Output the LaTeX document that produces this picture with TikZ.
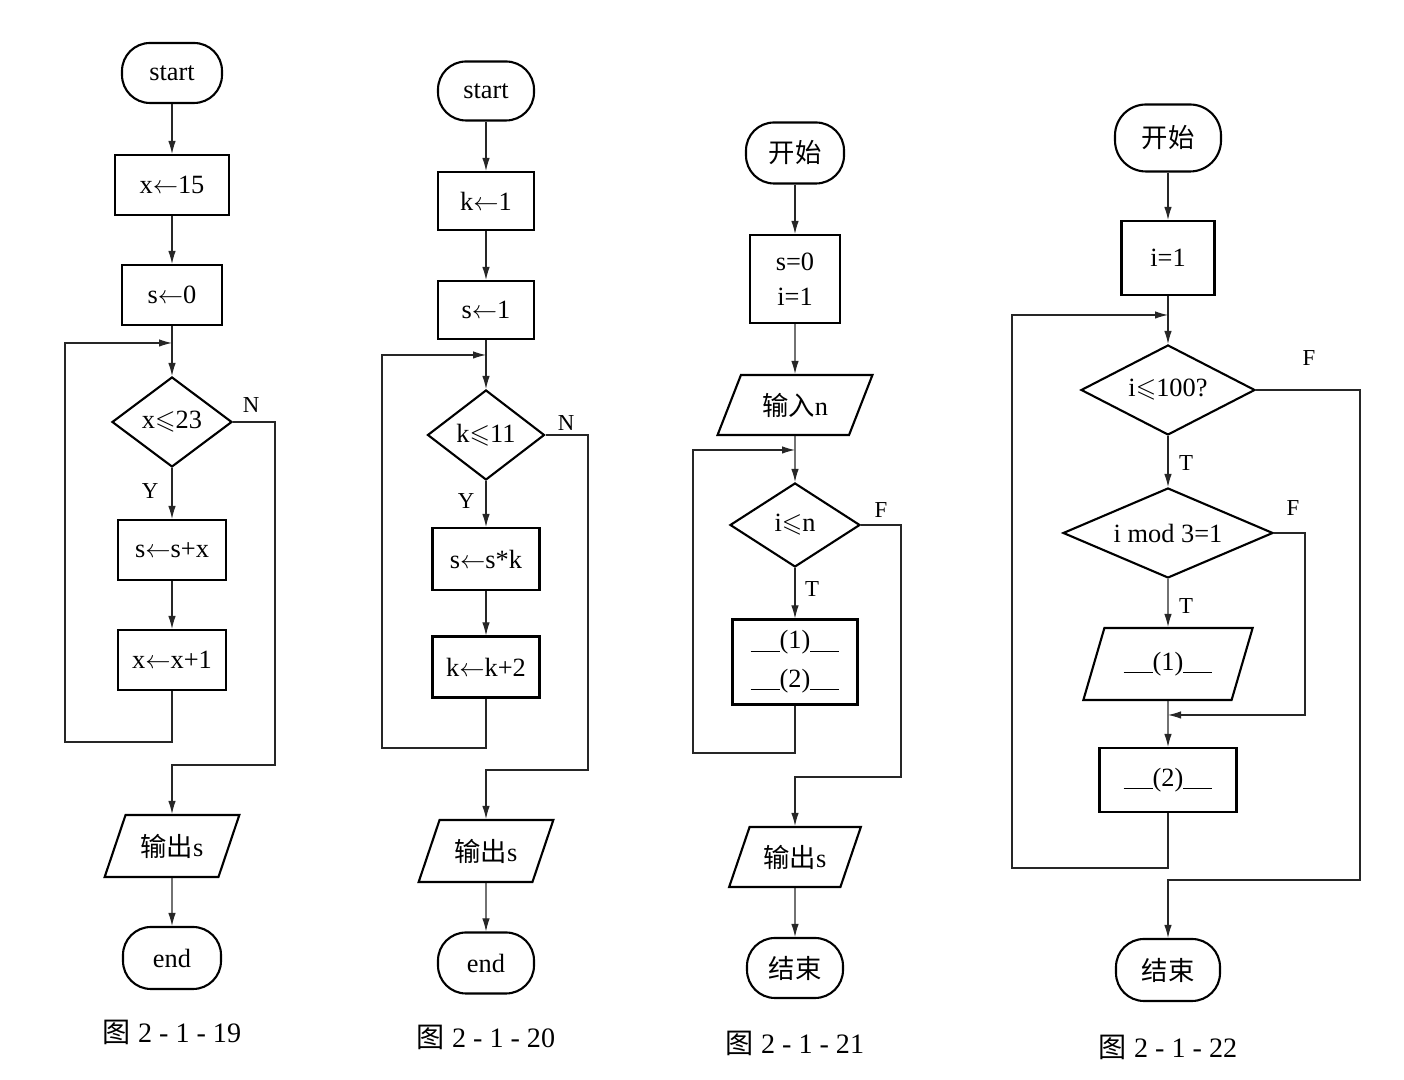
\documentclass[tikz,border=0pt]{standalone}
\usepackage{amsmath}
\usepackage{amssymb}
\usepackage{fontspec}
\setmainfont{Liberation Serif}
\newfontfamily\cjk{Noto Sans CJK SC}
\usepackage{tikz}
\usetikzlibrary{shapes,arrows.meta,positioning,calc}
\newcommand{\gapno}[1]{\rule[-0.1em]{1.1em}{0.5pt}(#1)\rule[-0.1em]{1.1em}{0.5pt}}
\tikzset{
    term/.style={rectangle, draw, rounded corners=0.56cm, line width=1.2pt, minimum width=2cm, minimum height=1.2cm, font=\fontsize{15}{18}\selectfont},
    proc/.style={rectangle, draw, line width=1.2pt, minimum width=2cm, minimum height=1.2cm, font=\fontsize{15}{18}\selectfont},
    io/.style={trapezium, trapezium left angle=65, trapezium right angle=115, trapezium stretches=true, draw, line width=1.2pt, minimum width=2.7cm, minimum height=1.24cm, font=\fontsize{15}{18}\selectfont},
    cond/.style={diamond, aspect=1.33, draw, line width=1.2pt, minimum width=2.4cm, minimum height=1.8cm, inner sep=0pt, font=\fontsize{15}{18}\selectfont},
    line/.style={draw, black!85, line width=0.6pt, -{Latex[length=2.6mm,width=1.5mm]}},
    yn/.style={font=\fontsize{13}{15}\selectfont},
    figcap/.style={font=\fontsize{16}{19}\selectfont}
}

\begin{document}
\begin{tikzpicture}
    \useasboundingbox (0,0) rectangle (28.08,21.6);

    % Figure 2-1-19
    \node [term] (start1) at (3.44,20.14) {start};
    \node [proc, minimum width=2.28cm] (x15) at ([shift={(0,-2.24)}]start1) {x$\leftarrow$15};
    \node [proc] (s0) at ([shift={(0,-2.20)}]x15) {s$\leftarrow$0};
    \node [cond] (dia1) at ([shift={(0,-2.54)}]s0) {x$\leqslant$23};
    \node [proc, minimum width=2.16cm] (add1) at ([shift={(0,-2.56)}]dia1) {s$\leftarrow$s+x};
    \node [proc, minimum width=2.16cm] (inc1) at ([shift={(0,-2.20)}]add1) {x$\leftarrow$x+1};
    \node [io] (out1) at ([shift={(0,-3.72)}]inc1) {{\cjk 输出}s};
    \node [term, minimum width=1.96cm, minimum height=1.24cm] (end1) at ([shift={(0,-2.24)}]out1) {end};
    \node [figcap] (cap1) at ([shift={(0,-1.48)}]end1) {{\cjk 图}\ 2 - 1 - 19};
    \node [yn] (n1) at ([shift={(0.36,0.34)}]dia1.east) {N};
    \node [yn] (y1) at ([shift={(-0.44,-0.46)}]dia1.south) {Y};
    \coordinate (j1) at (3.44,14.74);
    \coordinate (lp1) at (1.30,6.76);
    \coordinate (nx1) at (5.50,6.30);

    \path [line] (start1) -- (x15);
    \path [line] (x15) -- (s0);
    \path [line] (s0) -- (dia1);
    \path [line] (dia1) -- (add1);
    \path [line] (add1) -- (inc1);
    \path [line] (inc1) |- (lp1) |- (j1);
    \path [line] (dia1.east) -| (nx1) -| (out1);
    \path [line] (out1) -- (end1);

    % Figure 2-1-20
    \node [term, minimum width=1.92cm, minimum height=1.18cm] (start2) at (9.72,19.78) {start};
    \node [proc, minimum width=1.92cm, minimum height=1.16cm] (k1) at ([shift={(0,-2.20)}]start2) {k$\leftarrow$1};
    \node [proc, minimum width=1.92cm, minimum height=1.16cm] (s1) at ([shift={(0,-2.18)}]k1) {s$\leftarrow$1};
    \node [cond, minimum width=2.34cm] (dia2) at ([shift={(0,-2.50)}]s1) {k$\leqslant$11};
    \node [proc, minimum width=2.14cm, minimum height=1.24cm] (mul2) at ([shift={(0,-2.48)}]dia2) {s$\leftarrow$s*k};
    \node [proc, minimum width=2.14cm, minimum height=1.22cm] (inc2) at ([shift={(0,-2.16)}]mul2) {k$\leftarrow$k+2};
    \node [io] (out2) at ([shift={(0,-3.68)}]inc2) {{\cjk 输出}s};
    \node [term, minimum width=1.92cm, minimum height=1.22cm] (end2) at ([shift={(0,-2.24)}]out2) {end};
    \node [figcap] (cap2) at ([shift={(0,-1.48)}]end2) {{\cjk 图}\ 2 - 1 - 20};
    \node [yn] (n2) at ([shift={(0.41,0.24)}]dia2.east) {N};
    \node [yn] (y2) at ([shift={(-0.40,-0.40)}]dia2.south) {Y};
    \coordinate (j2) at (9.72,14.50);
    \coordinate (lp2) at (7.64,6.64);
    \coordinate (nx2) at (11.76,6.20);

    \path [line] (start2) -- (k1);
    \path [line] (k1) -- (s1);
    \path [line] (s1) -- (dia2);
    \path [line] (dia2) -- (mul2);
    \path [line] (mul2) -- (inc2);
    \path [line] (inc2) |- (lp2) |- (j2);
    \path [line] (dia2.east) -| (nx2) -| (out2);
    \path [line] (out2) -- (end2);

    % Figure 2-1-21
    \node [term, minimum width=1.96cm, minimum height=1.22cm] (start3) at (15.90,18.54) {\cjk 开始};
    \node [proc, minimum width=1.8cm, minimum height=1.76cm, align=center] (init3) at ([shift={(0,-2.52)}]start3) {s=0\\[2pt]i=1};
    \node [io, minimum width=3.1cm, minimum height=1.2cm] (in3) at ([shift={(0,-2.52)}]init3) {{\cjk 输入}n};
    \node [cond, minimum width=2.6cm, minimum height=1.68cm] (dia3) at ([shift={(0,-2.40)}]in3) {i$\leqslant$n};
    \node [proc, minimum width=2.5cm, minimum height=1.7cm, align=center] (body3) at ([shift={(0,-2.74)}]dia3) {\gapno{1}\\[4pt]\gapno{2}};
    \node [io, minimum width=2.64cm, minimum height=1.2cm] (out3) at ([shift={(0,-3.90)}]body3) {{\cjk 输出}s};
    \node [term, minimum width=1.92cm, minimum height=1.2cm] (end3) at ([shift={(0,-2.22)}]out3) {\cjk 结束};
    \node [figcap] (cap3) at ([shift={(0,-1.50)}]end3) {{\cjk 图}\ 2 - 1 - 21};
    \node [yn] (f3) at ([shift={(0.40,0.30)}]dia3.east) {F};
    \node [yn] (t3) at ([shift={(0.34,-0.42)}]dia3.south) {T};
    \coordinate (j3) at (15.90,12.60);
    \coordinate (lp3) at (13.86,6.54);
    \coordinate (fx3) at (18.02,6.06);

    \path [line] (start3) -- (init3);
    \path [line] (init3) -- (in3);
    \path [line] (in3) -- (dia3);
    \path [line] (dia3) -- (body3);
    \path [line] (body3) |- (lp3) |- (j3);
    \path [line] (dia3.east) -| (fx3) -| (out3);
    \path [line] (out3) -- (end3);

    % Figure 2-1-22
    \node [term, minimum width=2.12cm, minimum height=1.34cm, rounded corners=0.62cm] (start4) at (23.36,18.84) {\cjk 开始};
    \node [proc, minimum width=1.86cm, minimum height=1.48cm] (init4) at ([shift={(0,-2.40)}]start4) {i=1};
    \node [cond, aspect=2, minimum width=3.48cm] (dia4a) at ([shift={(0,-2.64)}]init4) {i$\leqslant$100?};
    \node [cond, aspect=2.4, minimum width=4.2cm] (dia4b) at ([shift={(0,-2.86)}]dia4a) {i mod 3=1};
    \node [io, minimum width=3.4cm, minimum height=1.44cm] (io4) at ([shift={(0,-2.62)}]dia4b) {\gapno{1}};
    \node [proc, minimum width=2.74cm, minimum height=1.28cm] (box4) at ([shift={(0,-2.32)}]io4) {\gapno{2}};
    \node [term, minimum width=2.08cm, minimum height=1.24cm] (end4) at ([shift={(0,-3.80)}]box4) {\cjk 结束};
    \node [figcap] (cap4) at ([shift={(0,-1.54)}]end4) {{\cjk 图}\ 2 - 1 - 22};
    \node [yn] (f4a) at ([shift={(1.06,0.64)}]dia4a.east) {F};
    \node [yn] (t4a) at ([shift={(0.36,-0.54)}]dia4a.south) {T};
    \node [yn] (f4b) at ([shift={(0.38,0.50)}]dia4b.east) {F};
    \node [yn] (t4b) at ([shift={(0.36,-0.54)}]dia4b.south) {T};
    \coordinate (j4a) at (23.36,15.30);
    \coordinate (j4b) at (23.36,7.30);
    \coordinate (lp4) at (20.24,4.24);
    \coordinate (fx4a) at (27.20,4.00);
    \coordinate (fx4b) at (26.10,7.30);

    \path [line] (start4) -- (init4);
    \path [line] (init4) -- (dia4a);
    \path [line] (dia4a) -- (dia4b);
    \path [line] (dia4b) -- (io4);
    \path [line] (io4) -- (box4);
    \path [line] (dia4b.east) -| (fx4b) -- (j4b);
    \path [line] (box4) |- (lp4) |- (j4a);
    \path [line] (dia4a.east) -| (fx4a) -| (end4);
\end{tikzpicture}
\end{document}
